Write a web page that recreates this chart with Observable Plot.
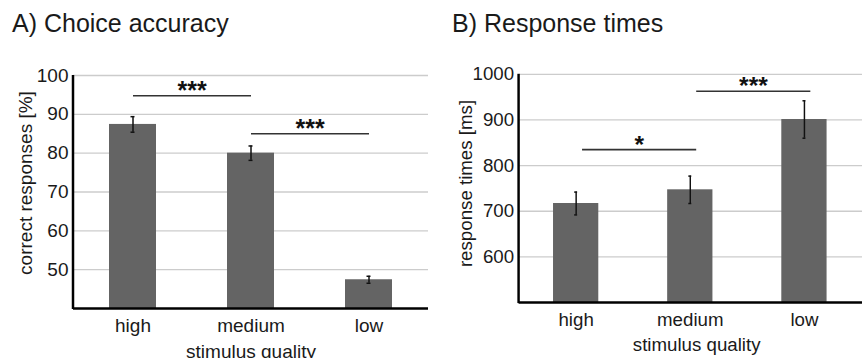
<!DOCTYPE html>
<html>
<head>
<meta charset="utf-8">
<script src="https://cdn.jsdelivr.net/npm/d3@7"></script>
<script src="https://cdn.jsdelivr.net/npm/@observablehq/plot@0.6"></script>
<style>
  html, body { margin: 0; padding: 0; background: #fff; overflow: hidden; }
  #wrap { position: relative; width: 862px; height: 358px; overflow: hidden; font-family: "Liberation Sans", Arial, sans-serif; color: #1a1a1a; }
  .panel { position: absolute; top: 0; }
  .panel svg { display: block; overflow: visible; }
  .title { position: absolute; top: 11px; font-size: 25px; line-height: 25px; white-space: nowrap; color: #1a1a1a; }
</style>
</head>
<body>
<div id="wrap">
  <div class="panel" id="pA" style="left:0px"></div>
  <div class="panel" id="pB" style="left:431px"></div>
  <div class="title" style="left:12px">A) Choice accuracy</div>
  <div class="title" style="left:452px">B) Response times</div>
</div>
<script>
// ---- data ----
const categories = ["high", "medium", "low"];
const accuracy = [87.4, 80.0, 47.4];
const accuracyErr = [2.0, 1.85, 0.9];
const responseTimes = [717, 747, 901];
const responseTimesErr = [25, 30, 41];
const accuracyTicks = [50, 60, 70, 80, 90, 100];
const rtTicks = [600, 700, 800, 900, 1000];
const accuracySig = [
  {from: "high", to: "medium", y: 94.8, label: "***"},
  {from: "medium", to: "low", y: 85.0, label: "***"}
];
const rtSig = [
  {from: "high", to: "medium", y: 835, label: "*"},
  {from: "medium", to: "low", y: 963, label: "***"}
];

const FONT = "Liberation Sans, Arial, sans-serif";

function panel({values, errs, ticks, sig, domain, yLabel, width, marginLeft, marginRight, marginBottom, sigDx, xLabelDx, yLabelDx, yLabelDy}) {
  const rows = categories.map((c, i) => ({cat: c, v: values[i], e: errs[i], base: domain[0]}));
  const marginTop = 75, height = 358;
  const step = (width - marginLeft - marginRight) / categories.length;
  const leftAxis = (index, scales, channels, dims) => {
    const g = d3.create("svg:line")
      .attr("x1", dims.marginLeft).attr("x2", dims.marginLeft)
      .attr("y1", dims.marginTop).attr("y2", dims.height - dims.marginBottom + 1)
      .attr("stroke", "#000").attr("stroke-width", 2.5);
    return g.node();
  };
  return Plot.plot({
    width, height, marginLeft, marginRight, marginTop, marginBottom,
    style: {fontFamily: FONT, fontSize: "19px", color: "#1a1a1a", background: "transparent"},
    x: {domain: categories, paddingInner: 0.6, paddingOuter: 0.3, label: null},
    y: {domain, label: null},
    marks: [
      Plot.ruleY(ticks, {stroke: "#cccccc", strokeWidth: 1.3}),
      Plot.barY(rows, {x: "cat", y1: "base", y2: "v", fill: "#646464"}),
      Plot.ruleX(rows, {x: "cat", y1: d => d.v - d.e, y2: d => d.v + d.e, stroke: "#111", strokeWidth: 1.5}),
      Plot.tickY(rows, {x: "cat", y: d => d.v - d.e, stroke: "#111", strokeWidth: 1.5, insetLeft: 21.5, insetRight: 21.5}),
      Plot.tickY(rows, {x: "cat", y: d => d.v + d.e, stroke: "#111", strokeWidth: 1.5, insetLeft: 21.5, insetRight: 21.5}),
      Plot.link(sig, {x1: "from", x2: "to", y1: "y", y2: "y", stroke: "#333", strokeWidth: 1.6, dx: sigDx}),
      Plot.text(sig, {x: "from", y: "y", text: "label", dx: step / 2 + sigDx, dy: 3, lineAnchor: "bottom", fontSize: 25, fontWeight: "bold", fill: "#111"}),
      Plot.axisY({ticks, tickSize: 0, tickPadding: 5, fontSize: 19, label: null, fill: "#1a1a1a", tickFormat: d => String(d)}),
      Plot.axisX({tickSize: 0, tickPadding: 10, fontSize: 19, label: null, fill: "#1a1a1a"}),
      Plot.ruleY([domain[0]], {stroke: "#000", strokeWidth: 2.5}),
      leftAxis,
      Plot.text([yLabel], {frameAnchor: "left", textAnchor: "middle", lineAnchor: "middle", rotate: -90, dx: yLabelDx, dy: yLabelDy, fontSize: 19, fill: "#1a1a1a"}),
      Plot.text(["stimulus quality"], {frameAnchor: "bottom", textAnchor: "middle", dx: xLabelDx, dy: 43, lineAnchor: "middle", fontSize: 19, fill: "#1a1a1a"})
    ]
  });
}

document.getElementById("pA").append(panel({
  values: accuracy, errs: accuracyErr, ticks: accuracyTicks, sig: accuracySig,
  domain: [40, 100], yLabel: "correct responses [%]",
  width: 431, marginLeft: 73, marginRight: 3, marginBottom: 50,
  sigDx: 0, xLabelDx: 0, yLabelDx: -48, yLabelDy: -9
}));
document.getElementById("pB").append(panel({
  values: responseTimes, errs: responseTimesErr, ticks: rtTicks, sig: rtSig,
  domain: [500, 1000], yLabel: "response times [ms]",
  width: 438, marginLeft: 89, marginRight: 0, marginBottom: 51,
  sigDx: 6, xLabelDx: 6, yLabelDx: -54, yLabelDy: -5
}));
</script>
</body>
</html>
